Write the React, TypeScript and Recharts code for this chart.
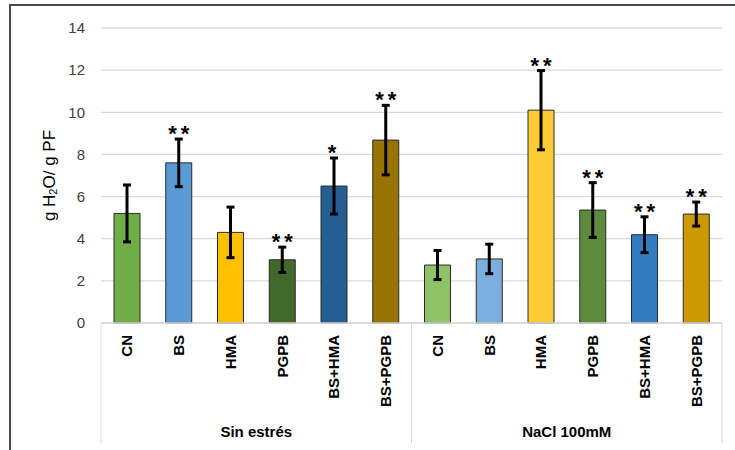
import React from "react";
import { Bar, BarChart, CartesianGrid, Cell, ErrorBar, LabelList, XAxis, YAxis } from "recharts";

const categories = ["CN", "BS", "HMA", "PGPB", "BS+HMA", "BS+PGPB", "CN", "BS", "HMA", "PGPB", "BS+HMA", "BS+PGPB"];
const groups = ["Sin estrés", "NaCl 100mM"];
const values = [5.2, 7.6, 4.3, 3.0, 6.5, 8.68, 2.75, 3.04, 10.1, 5.36, 4.19, 5.17];
const errors = [1.35, 1.13, 1.2, 0.6, 1.33, 1.65, 0.69, 0.7, 1.88, 1.3, 0.85, 0.57];
const marks = ["", "**", "", "**", "*", "**", "", "", "**", "**", "**", "**"];
const colors = [
  "#70ad47", "#5b9bd5", "#ffc000", "#43682b", "#255e91", "#997300",
  "#8fc267", "#7dafde", "#ffcd33", "#5e8b3b", "#327cc2", "#cc9a00"
];
const yTicks = [0, 2, 4, 6, 8, 10, 12, 14];

const data = categories.map((name, i) => ({
  key: `${i}`,
  name,
  value: values[i],
  err: errors[i],
  mark: marks[i]
}));

const W = 735;
const H = 450;
const PLOT_LEFT = 101;
const PLOT_RIGHT = 722;
const PLOT_TOP = 28;
const PLOT_BOTTOM = 323;
const STEP = (PLOT_RIGHT - PLOT_LEFT) / categories.length;
const PER_GROUP = categories.length / groups.length;
const FONT = "'Liberation Sans', Arial, sans-serif";

function CategoryTick(props: any) {
  const { x, y, payload, index } = props;
  const i = typeof index === "number" ? index : payload.index;
  const label = categories[i];
  const parts: React.ReactNode[] = [];
  parts.push(
    <text
      key="t"
      x={x}
      y={y}
      transform={`rotate(-90, ${x}, ${y})`}
      textAnchor="end"
      dominantBaseline="central"
      fontFamily={FONT}
      fontWeight="bold"
      fontSize={15}
      fill="#000"
    >
      {label}
    </text>
  );
  if (i % PER_GROUP === 0) {
    parts.push(<line key="l" x1={x - STEP / 2} x2={x - STEP / 2} y1={PLOT_BOTTOM} y2={443} stroke="#d9d9d9" />);
  }
  if (i === categories.length - 1) {
    parts.push(<line key="r" x1={x + STEP / 2} x2={x + STEP / 2} y1={PLOT_BOTTOM} y2={443} stroke="#d9d9d9" />);
  }
  if (i % PER_GROUP === PER_GROUP / 2 - 1) {
    parts.push(
      <text
        key="g"
        x={x + STEP / 2}
        y={431}
        textAnchor="middle"
        dominantBaseline="central"
        fontFamily={FONT}
        fontWeight="bold"
        fontSize={15}
        fill="#000"
      >
        {groups[Math.floor(i / PER_GROUP)]}
      </text>
    );
  }
  return <g>{parts}</g>;
}

function StarLabel(props: any) {
  const { x, y, width, height, index } = props;
  const d = data[index];
  if (!d || !d.mark) return null;
  const errTop = y - (d.err * height) / d.value;
  return (
    <text
      x={x + width / 2 + (d.mark.length > 1 ? 2 : 0)}
      y={errTop + 2}
      textAnchor="middle"
      fontFamily={FONT}
      fontWeight="bold"
      fontSize={22}
      letterSpacing={4}
      fill="#000"
    >
      {d.mark}
    </text>
  );
}

function YLabel(props: any) {
  const { viewBox } = props;
  const cx = viewBox.x + 49;
  const cy = viewBox.y + viewBox.height / 2;
  return (
    <text
      x={cx}
      y={cy}
      transform={`rotate(-90, ${cx}, ${cy})`}
      textAnchor="middle"
      dominantBaseline="central"
      fontFamily={FONT}
      fontSize={17}
      fill="#000"
    >
      g H<tspan fontSize={11} dy={4}>2</tspan>
      <tspan dy={-4}>O/ g PF</tspan>
    </text>
  );
}

export default function App() {
  return (
    <div style={{ position: "absolute", left: 0, top: 0, width: W, height: H, background: "#fff" }}>
      <div
        style={{
          position: "absolute",
          left: 9,
          top: 4,
          width: W - 9,
          height: H - 4,
          borderLeft: "2px solid #4a4a4a",
          borderTop: "2px solid #4a4a4a",
          boxSizing: "border-box"
        }}
      />
      <div style={{ position: "absolute", left: 0, top: 0 }}>
        <BarChart
          width={W}
          height={H}
          data={data}
          margin={{ top: PLOT_TOP, right: W - PLOT_RIGHT, bottom: 7, left: 0 }}
          barSize={26}
        >
          <CartesianGrid horizontal vertical={false} stroke="#d9d9d9" strokeWidth={1.3} />
          <XAxis
            dataKey="key"
            height={H - PLOT_BOTTOM - 7}
            interval={0}
            tickLine={false}
            tickSize={0}
            tickMargin={12}
            axisLine={{ stroke: "#d9d9d9", strokeWidth: 1.3 }}
            tick={<CategoryTick />}
          />
          <YAxis
            width={PLOT_LEFT}
            domain={[0, 14]}
            ticks={yTicks}
            interval={0}
            axisLine={false}
            tickLine={false}
            tickSize={6}
            tickMargin={10}
            tick={{ fontFamily: FONT, fontSize: 15, fill: "#404040" }}
            label={<YLabel />}
          />
          <Bar dataKey="value" stroke="#2b2b2b" strokeWidth={1} isAnimationActive={false}>
            {data.map((d, i) => (
              <Cell key={d.key} fill={colors[i]} />
            ))}
            <ErrorBar dataKey="err" width={4} strokeWidth={3} stroke="#000" isAnimationActive={false} />
            <LabelList dataKey="mark" content={<StarLabel />} />
          </Bar>
        </BarChart>
      </div>
    </div>
  );
}
